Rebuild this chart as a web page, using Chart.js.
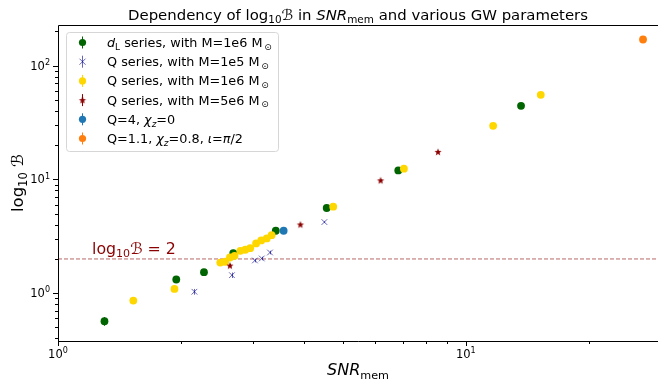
<!DOCTYPE html>
<html>
<head>
<meta charset="utf-8">
<script src="https://cdn.jsdelivr.net/npm/chart.js@4"></script>
<style>
  html, body { margin: 0; padding: 0; background: #fff; }
</style>
</head>
<body>
<canvas id="chart" width="658" height="381"></canvas>
<script>
// d_L series, M=1e6
const dlSnr = [1.30, 1.95, 2.28, 2.69, 3.42, 4.56, 6.83, 13.66];
const dlLogB = [0.567, 1.32, 1.53, 2.25, 3.54, 5.61, 12.0, 44.4];
const dlErr = [0.05, 0.03, 0.03, 0.04, 0.05, 0.06, 0.1, 0.3];

// Q series, M=1e5
const q5Snr = [2.16, 2.67, 3.04, 3.16, 3.31, 4.50];
const q5LogB = [1.03, 1.44, 1.94, 2.02, 2.28, 4.22];
const q5Err = [0.06, 0.08, 0.07, 0.07, 0.08, 0.06];

// Q series, M=1e6
const q6Snr = [1.53, 1.93, 2.50, 2.57, 2.64, 2.71, 2.80, 2.88, 2.96, 3.06, 3.15, 3.25, 3.34, 4.73, 7.05, 11.67, 15.27];
const q6LogB = [0.861, 1.09, 1.86, 1.89, 2.06, 2.13, 2.36, 2.41, 2.49, 2.74, 2.91, 3.03, 3.24, 5.76, 12.45, 29.6, 55.5];
const q6Err = [0.02, 0.02, 0.02, 0.02, 0.02, 0.02, 0.02, 0.02, 0.02, 0.02, 0.02, 0.02, 0.03, 0.04, 0.08, 0.2, 0.3];

// Q series, M=5e6
const q50Snr = [2.64, 3.93, 6.18, 8.55];
const q50LogB = [1.75, 4.02, 9.82, 17.5];
const q50Err = [0.06, 0.08, 0.15, 0.25];

// single runs
const q4Snr = [3.575];
const q4LogB = [3.54];
const q4Err = [0.03];
const q11Snr = [27.2];
const q11LogB = [170];
const q11Err = [1];

const threshold = 2;

const xMajor = [1, 10];
const xMajorExp = ['0', '1'];
const xMinor = [2, 3, 4, 5, 6, 7, 8, 9, 20];
const yMajor = [1, 10, 100];
const yMajorExp = ['0', '1', '2'];
const yMinor = [0.4, 0.5, 0.6, 0.7, 0.8, 0.9, 2, 3, 4, 5, 6, 7, 8, 9, 20, 30, 40, 50, 60, 70, 80, 90, 200];

const xMin = 1, xMax = 29.6, yMin = 0.38, yMax = 228;

const FAM = '"DejaVu Sans", sans-serif';

function pts(xs, ys) {
  return xs.map((x, i) => ({ x: x, y: ys[i] }));
}

function starImage(color, r) {
  const c = document.createElement('canvas');
  const s = Math.ceil(r * 2 + 2);
  c.width = s; c.height = s;
  const g = c.getContext('2d');
  g.beginPath();
  for (let i = 0; i < 10; i++) {
    const rr = i % 2 === 0 ? r : r * 0.42;
    const a = -Math.PI / 2 + i * Math.PI / 5;
    const px = s / 2 + rr * Math.cos(a);
    const py = s / 2 + rr * Math.sin(a) + r * 0.1;
    if (i === 0) g.moveTo(px, py); else g.lineTo(px, py);
  }
  g.closePath();
  g.fillStyle = color;
  g.fill();
  return c;
}

// rich text: parts [{t, i, sub, sup}]
function fontFor(p, size) {
  const s = (p.sub || p.sup) ? size * 0.7 : size;
  return (p.i ? 'oblique ' : '') + s + 'px ' + FAM;
}
function richWidth(ctx, parts, size) {
  let w = 0;
  parts.forEach(p => { ctx.font = fontFor(p, size); w += ctx.measureText(p.t).width; });
  return w;
}
function drawRich(ctx, parts, x, y, size, align, color) {
  const w = richWidth(ctx, parts, size);
  let cx = align === 'center' ? x - w / 2 : align === 'right' ? x - w : x;
  ctx.fillStyle = color;
  ctx.textAlign = 'left';
  ctx.textBaseline = 'alphabetic';
  parts.forEach(p => {
    ctx.font = fontFor(p, size);
    const dy = p.sub ? size * 0.22 : p.sup ? -size * 0.42 : 0;
    ctx.fillText(p.t, cx, y + dy);
    cx += ctx.measureText(p.t).width;
  });
}

const DARKGREEN = '#006400';
const GOLD = '#ffd700';
const XBLUE = 'rgba(0,0,139,0.6)';
const DARKRED = '#8b0000';
const TABBLUE = '#1f77b4';
const TABORANGE = '#ff7f0e';

const star = starImage(DARKRED, 3.8);

const series = [
  { label: 'dL', data: pts(dlSnr, dlLogB), err: dlErr, color: DARKGREEN, style: 'circle', order: 6 },
  { label: 'q5', data: pts(q5Snr, q5LogB), err: q5Err, color: XBLUE, style: 'crossRot', order: 5 },
  { label: 'q6', data: pts(q6Snr, q6LogB), err: q6Err, color: GOLD, style: 'circle', order: 4 },
  { label: 'q50', data: pts(q50Snr, q50LogB), err: q50Err, color: DARKRED, style: star, order: 3 },
  { label: 'q4', data: pts(q4Snr, q4LogB), err: q4Err, color: TABBLUE, style: 'circle', order: 2 },
  { label: 'q11', data: pts(q11Snr, q11LogB), err: q11Err, color: TABORANGE, style: 'circle', order: 1 }
];

const datasets = series.map(s => ({
  label: s.label,
  data: s.data,
  errors: s.err,
  pointStyle: s.style,
  pointRadius: s.style === 'crossRot' ? 4 : 3.9,
  backgroundColor: s.color,
  borderColor: s.color,
  pointBorderWidth: s.style === 'crossRot' ? 1 : 0,
  order: s.order
}));

datasets.push({
  type: 'line',
  label: 'threshold',
  data: [{ x: xMin, y: threshold }, { x: xMax, y: threshold }],
  borderColor: 'rgba(139,0,0,0.6)',
  borderWidth: 1,
  borderDash: [4, 2],
  pointRadius: 0,
  order: 7
});

const legendItems = [
  { color: DARKGREEN, style: 'circle', parts: [{ t: 'd', i: true }, { t: 'L', sub: true }, { t: ' series, with M=1e6 M' }, { t: '\u2009⊙', sub: true }] },
  { color: XBLUE, style: 'cross', parts: [{ t: 'Q series, with M=1e5 M' }, { t: '\u2009⊙', sub: true }] },
  { color: GOLD, style: 'circle', parts: [{ t: 'Q series, with M=1e6 M' }, { t: '\u2009⊙', sub: true }] },
  { color: DARKRED, style: 'star', parts: [{ t: 'Q series, with M=5e6 M' }, { t: '\u2009⊙', sub: true }] },
  { color: TABBLUE, style: 'circle', parts: [{ t: 'Q=4, ' }, { t: 'χ', i: true }, { t: 'z', i: true, sub: true }, { t: '=0' }] },
  { color: TABORANGE, style: 'circle', parts: [{ t: 'Q=1.1, ' }, { t: 'χ', i: true }, { t: 'z', i: true, sub: true }, { t: '=0.8, ' }, { t: 'ι', i: true }, { t: '=' }, { t: 'π', i: true }, { t: '/2' }] }
];

const errorBars = {
  id: 'errorBars',
  beforeDatasetDraw(chart, args) {
    const ds = chart.data.datasets[args.index];
    if (!ds.errors) return;
    const ctx = chart.ctx;
    const xs = chart.scales.x, ys = chart.scales.y;
    ctx.save();
    ctx.strokeStyle = ds.borderColor;
    ctx.lineWidth = 1;
    ds.data.forEach((p, i) => {
      const e = ds.errors[i];
      const px = Math.round(xs.getPixelForValue(p.x)) + 0.5;
      ctx.beginPath();
      ctx.moveTo(px, ys.getPixelForValue(p.y - e));
      ctx.lineTo(px, ys.getPixelForValue(p.y + e));
      ctx.stroke();
    });
    ctx.restore();
  }
};

const decorations = {
  id: 'decorations',
  afterDraw(chart) {
    const ctx = chart.ctx;
    const a = chart.chartArea;
    const xs = chart.scales.x, ys = chart.scales.y;
    ctx.save();

    // spines (right one falls outside the crop)
    ctx.strokeStyle = '#000';
    ctx.lineWidth = 1;
    ctx.beginPath();
    ctx.moveTo(a.right, a.top + 0.5);
    ctx.lineTo(a.left + 0.5, a.top + 0.5);
    ctx.lineTo(a.left + 0.5, a.bottom + 0.5);
    ctx.lineTo(a.right, a.bottom + 0.5);
    ctx.stroke();

    // ticks
    ctx.beginPath();
    xMajor.forEach(v => { const p = Math.round(xs.getPixelForValue(v)) + 0.5; ctx.moveTo(p, a.bottom); ctx.lineTo(p, a.bottom + 5); });
    xMinor.forEach(v => { const p = Math.round(xs.getPixelForValue(v)) + 0.5; ctx.moveTo(p, a.bottom); ctx.lineTo(p, a.bottom + 3); });
    yMajor.forEach(v => { const p = Math.round(ys.getPixelForValue(v)) + 0.5; ctx.moveTo(a.left, p); ctx.lineTo(a.left - 5, p); });
    yMinor.forEach(v => { const p = Math.round(ys.getPixelForValue(v)) + 0.5; ctx.moveTo(a.left, p); ctx.lineTo(a.left - 3, p); });
    ctx.stroke();

    // tick labels
    xMajor.forEach((v, i) => {
      drawRich(ctx, [{ t: '10' }, { t: xMajorExp[i], sup: true }], xs.getPixelForValue(v), a.bottom + 17, 11.5, 'center', '#000');
    });
    yMajor.forEach((v, i) => {
      drawRich(ctx, [{ t: '10' }, { t: yMajorExp[i], sup: true }], a.left - 8, ys.getPixelForValue(v) + 4, 11.5, 'right', '#000');
    });

    // title
    drawRich(ctx, [{ t: 'Dependency of log' }, { t: '10', sub: true }, { t: 'ℬ' }, { t: ' in ' }, { t: 'SNR', i: true }, { t: 'mem', sub: true }, { t: ' and various GW parameters' }],
      (a.left + a.right) / 2, 20, 14.9, 'center', '#000');

    // axis titles
    drawRich(ctx, [{ t: 'SNR', i: true }, { t: 'mem', sub: true }], (a.left + a.right) / 2, 375, 16, 'center', '#000');
    ctx.save();
    ctx.translate(23, (a.top + a.bottom) / 2);
    ctx.rotate(-Math.PI / 2);
    drawRich(ctx, [{ t: 'log' }, { t: '10', sub: true }, { t: ' ℬ' }], 0, 0, 16.5, 'center', '#000');
    ctx.restore();

    // threshold annotation
    drawRich(ctx, [{ t: 'log' }, { t: '10', sub: true }, { t: 'ℬ' }, { t: ' = 2' }], 92, ys.getPixelForValue(threshold) - 5, 15.8, 'left', DARKRED);

    // legend
    const lx = 66, ly = 32, lw = 212, lh = 119;
    ctx.beginPath();
    ctx.roundRect(lx + 0.5, ly + 0.5, lw, lh, 3);
    ctx.fillStyle = 'rgba(255,255,255,0.8)';
    ctx.fill();
    ctx.strokeStyle = '#d6d6d6';
    ctx.lineWidth = 1;
    ctx.stroke();
    legendItems.forEach((it, i) => {
      const cy = 42.5 + i * 19.2;
      const mx = 82.5;
      ctx.strokeStyle = it.color;
      ctx.fillStyle = it.color;
      ctx.lineWidth = 1;
      ctx.beginPath();
      ctx.moveTo(mx, cy - 6); ctx.lineTo(mx, cy + 6);
      ctx.stroke();
      if (it.style === 'circle') {
        ctx.beginPath(); ctx.arc(mx, cy, 3.6, 0, Math.PI * 2); ctx.fill();
      } else if (it.style === 'cross') {
        ctx.beginPath();
        ctx.moveTo(mx - 3, cy - 3); ctx.lineTo(mx + 3, cy + 3);
        ctx.moveTo(mx - 3, cy + 3); ctx.lineTo(mx + 3, cy - 3);
        ctx.stroke();
      } else {
        ctx.drawImage(star, mx - star.width / 2, cy - star.height / 2);
      }
      drawRich(ctx, it.parts, 107, cy + 4.5, 12.8, 'left', '#000');
    });
    ctx.restore();
  }
};

new Chart(document.getElementById('chart'), {
  type: 'scatter',
  data: { datasets: datasets },
  options: {
    responsive: false,
    devicePixelRatio: 1,
    animation: false,
    events: [],
    layout: { autoPadding: false, padding: { top: 25, right: 0, left: 0, bottom: 0 } },
    plugins: { legend: { display: false }, tooltip: { enabled: false } },
    scales: {
      x: {
        type: 'logarithmic', min: xMin, max: xMax,
        grid: { display: false }, border: { display: false }, ticks: { display: false },
        afterFit(s) { s.height = 40; }
      },
      y: {
        type: 'logarithmic', min: yMin, max: yMax,
        grid: { display: false }, border: { display: false }, ticks: { display: false },
        afterFit(s) { s.width = 58; }
      }
    }
  },
  plugins: [errorBars, decorations]
});
</script>
</body>
</html>
